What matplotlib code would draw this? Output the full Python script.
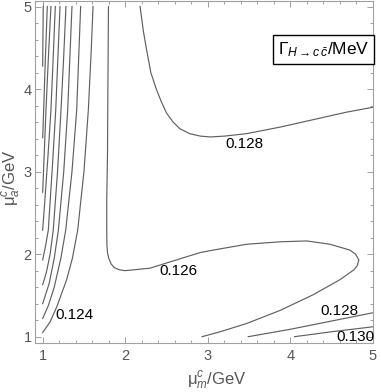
import matplotlib
matplotlib.use("Agg")
import matplotlib.pyplot as plt
from matplotlib.ticker import MultipleLocator

plt.rcParams['font.family'] = ['Liberation Sans', 'DejaVu Sans']
plt.rcParams['mathtext.fontset'] = 'custom'
plt.rcParams['mathtext.rm'] = 'Liberation Sans'
plt.rcParams['mathtext.it'] = 'Liberation Sans:italic'
plt.rcParams['mathtext.bf'] = 'Liberation Sans:bold'

# ---- contour curves, x = mu_m^c, y = mu_a^c ----
left_x = [
    [1.007, 1.003, 1.0],
    [1.056, 1.03, 1.012, 1.0],
    [1.10, 1.07, 1.04, 1.018, 1.0],
    [1.153, 1.128, 1.10, 1.065, 1.03, 1.0],
    [1.21, 1.185, 1.158, 1.12, 1.068, 1.035, 1.0],
    [1.282, 1.255, 1.222, 1.18, 1.128, 1.09, 1.045, 1.0],
    [1.355, 1.33, 1.303, 1.255, 1.19, 1.14, 1.08, 1.0],
    [1.46, 1.437, 1.412, 1.355, 1.279, 1.22, 1.14, 1.07, 1.0],
    [1.61, 1.585, 1.553, 1.50, 1.424, 1.36, 1.29, 1.17, 1.09, 1.0],
]
left_y = [
    [5.0, 4.6, 4.28],
    [5.0, 4.3, 3.75, 3.41],
    [5.0, 4.4, 3.745, 3.2, 2.75],
    [5.0, 4.4, 3.745, 3.2, 2.7, 2.29],
    [5.0, 4.4, 3.745, 3.1, 2.29, 2.1, 1.93],
    [5.0, 4.4, 3.745, 3.0, 2.29, 2.0, 1.78, 1.63],
    [5.0, 4.4, 3.745, 3.0, 2.29, 1.95, 1.65, 1.40],
    [5.0, 4.4, 3.745, 3.0, 2.29, 1.95, 1.60, 1.38, 1.22],
    [5.0, 4.4, 3.745, 3.0, 2.29, 1.95, 1.69, 1.36, 1.18, 1.05],
]

c126_x = [1.797, 1.79, 1.785, 1.776, 1.776, 1.778, 1.785, 1.80, 1.83, 1.87, 1.93, 2.0,
          2.30, 2.62, 2.91, 3.07, 3.47, 3.88, 4.20, 4.48, 4.72, 4.79, 4.83, 4.81,
          4.77, 4.60, 4.28, 3.88, 3.47, 3.15, 2.93]
c126_y = [5.0, 4.0, 3.2, 2.66, 2.3, 2.11, 2.02, 1.95, 1.88, 1.835, 1.81, 1.80,
          1.83, 1.93, 2.02, 2.05, 2.12, 2.15, 2.16, 2.12, 2.05, 2.0, 1.93, 1.86,
          1.81, 1.69, 1.51, 1.32, 1.16, 1.06, 1.0]

c128_top_x = [2.18, 2.22, 2.26, 2.31, 2.38, 2.44, 2.50, 2.58, 2.66, 2.78, 2.91, 3.03,
              3.2, 3.47, 3.88, 4.28, 4.68, 5.0]
c128_top_y = [5.0, 4.7, 4.47, 4.2, 3.99, 3.84, 3.71, 3.60, 3.52, 3.46, 3.43, 3.42,
              3.43, 3.46, 3.54, 3.63, 3.72, 3.78]

c128_bot_x = [3.49, 4.0, 4.5, 5.0]
c128_bot_y = [1.0, 1.09, 1.19, 1.29]

c130_x = [4.05, 4.5, 5.0]
c130_y = [1.0, 1.06, 1.12]

label_text = ["0.124", "0.126", "0.128", "0.128", "0.130"]
label_x = [1.39, 2.65, 3.44, 4.60, 4.786]
label_y = [1.257, 1.795, 3.34, 1.314, 0.994]

xticks = [1, 2, 3, 4, 5]
yticks = [1, 2, 3, 4, 5]

W, H = 381, 392
fig = plt.figure(figsize=(W / 100, H / 100), dpi=100)
ax = fig.add_axes([35 / W, (H - 343.3) / H, (373.3 - 35) / W, (343.3 - 0.5) / H])

lc = '#606060'
lw = 0.85
for xs, ys in zip(left_x, left_y):
    ax.plot(xs, ys, color=lc, lw=lw)
for xs, ys in [(c126_x, c126_y), (c128_top_x, c128_top_y),
               (c128_bot_x, c128_bot_y), (c130_x, c130_y)]:
    ax.plot(xs, ys, color=lc, lw=lw)

for t, x, y in zip(label_text, label_x, label_y):
    ax.text(x, y, t, fontsize=11, color='black', ha='center', va='center')

ax.text(4.40, 4.479, r'$\Gamma_{H\to c\,\bar{c}}$/MeV', fontsize=12.5, color='black',
        ha='center', va='center',
        bbox=dict(boxstyle='square,pad=0.28', fc='white', ec='black', lw=1.0))

ax.set_xlim(0.907, 5.005)
ax.set_ylim(0.920, 5.073)
ax.set_xticks(xticks)
ax.set_yticks(yticks)
ax.set_xticklabels([str(v) for v in xticks])
ax.set_yticklabels([str(v) for v in yticks])
ax.xaxis.set_minor_locator(MultipleLocator(0.2))
ax.yaxis.set_minor_locator(MultipleLocator(0.2))

fc = '#a0a0a0'
for s in ax.spines.values():
    s.set_color(fc)
    s.set_linewidth(0.8)
ax.tick_params(which='both', direction='in', top=True, right=True, color=fc,
               width=0.7, labelcolor='#555555', labelsize=10.5)
ax.tick_params(which='major', length=4.5)
ax.tick_params(which='minor', length=2.5)
ax.tick_params(axis='x', pad=4)
ax.tick_params(axis='y', pad=2.5)

fig.text(217 / W, 1 - 381 / H, r'$\mathregular{μ}_m^c$/GeV', fontsize=12,
         color='#555555', ha='center', va='center')
fig.text(12 / W, 1 - 178 / H, r'$\mathregular{μ}_a^c$/GeV', fontsize=12,
         color='#555555', ha='center', va='center', rotation=90)

fig.savefig('out.png', dpi=100)
